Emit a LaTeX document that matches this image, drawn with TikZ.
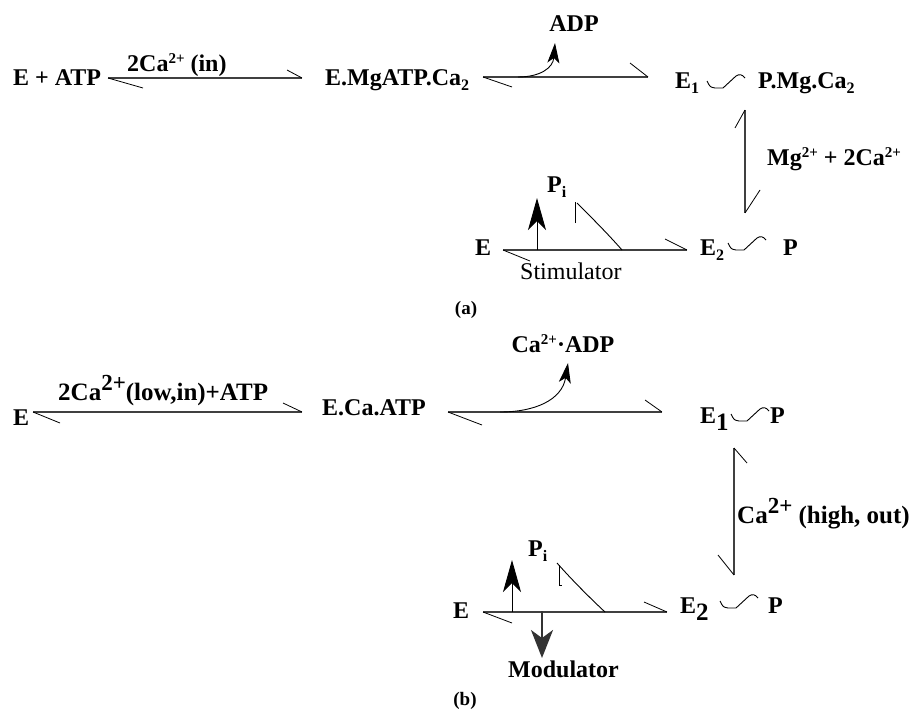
\documentclass[tikz,border=0pt]{standalone}
\usepackage{fontspec}
\setmainfont{Liberation Serif}
\usetikzlibrary{arrows.meta}
\newcommand\mysub[1]{\raisebox{-5pt}{\fontsize{16}{16}\selectfont #1}}
\newcommand\mysup[1]{\raisebox{8pt}{\fontsize{15}{15}\selectfont #1}}
\newcommand\bigsub[1]{\raisebox{-7pt}{\fontsize{25}{25}\selectfont #1}}
\newcommand\bigsup[1]{\raisebox{10pt}{\fontsize{23}{23}\selectfont #1}}
\begin{document}
\begin{tikzpicture}[x=1pt,y=-1pt,
  lbl/.style={inner sep=0pt, anchor=base west, font=\fontsize{24}{28}\selectfont\bfseries},
  biglbl/.style={inner sep=0pt, anchor=base west, font=\fontsize{25}{28}\selectfont\bfseries},
  plain/.style={inner sep=0pt, anchor=base west, font=\fontsize{24}{28}\selectfont},
  tag/.style={inner sep=0pt, anchor=center, font=\fontsize{19}{20}\selectfont\bfseries},
  eqline/.style={draw=black!75, line width=1.4pt},
  barb/.style={draw=black, line width=0.8pt},
  thinline/.style={draw=black, line width=0.9pt},
  curvearrow/.style={-{Stealth[length=20pt,width=12pt,inset=5pt]}, line width=0.9pt},
  uparrow/.style={-{Stealth[length=32pt,width=18pt,inset=9pt]}, line width=0.9pt},
  downarrow/.style={-{Stealth[length=28pt,width=22pt,inset=8pt]}, draw=black!80, line width=2pt},
  wavepic/.pic={\draw[line width=0.9pt] (0,6) .. controls (3,12) .. (8,13) -- (16,13) -- (29,1) .. controls (32,-1) and (35,-1) .. (38,3);}
]
\useasboundingbox (0,0) rectangle (918,712);

% ---------------- (a) ----------------
\node[lbl] (a1) at (13,85) {E + ATP};
\node[lbl] (a1lab) at (127,71) {2Ca\mysup{2+} (in)};
\node[lbl] (a2) at (325,85) {E.MgATP.Ca\mysub{2}};
\node[lbl,anchor=center] (adp) at (574,24) {ADP};
\node[lbl] (a3e) at (675,88) {E\mysub{1}};
\node[lbl] (a3p) at (758,88) {P.Mg.Ca\mysub{2}};
\node[lbl] (mglab) at (767,165) {Mg\mysup{2+} + 2Ca\mysup{2+}};
\node[lbl] (a5e) at (700,255) {E\mysub{2}};
\node[lbl] (a5p) at (783,255) {P};
\node[lbl] (a6) at (475,255) {E};
\node[lbl] (api) at (547,192) {P\mysub{i}};
\node[plain] (stim) at (520,279) {Stimulator};
\node[tag] (taga) at (466,310) {(a)};

% arrow 1
\coordinate (l1a) at (108,78); \coordinate (l1b) at (302,78);
\coordinate (l1ab) at (143,88); \coordinate (l1bb) at (287,70);
\draw[eqline] (l1a) -- (l1b);
\draw[barb] (l1a) -- (l1ab);
\draw[barb] (l1bb) -- (l1b);
% arrow 2
\coordinate (l2a) at (483,77); \coordinate (l2b) at (648,77);
\coordinate (l2ab) at (512,87); \coordinate (l2bb) at (630,63);
\draw[eqline] (l2a) -- (l2b);
\draw[barb] (l2a) -- (l2ab);
\draw[barb] (l2bb) -- (l2b);
\coordinate (adps) at (518,77); \coordinate (adpt) at (555,43);
\draw[curvearrow] (adps) .. controls (540,77) and (553,68) .. (adpt);
\pic at (707,75) {wavepic};
% vertical arrow
\coordinate (l3a) at (745,110); \coordinate (l3b) at (745,213);
\coordinate (l3ab) at (735,128); \coordinate (l3bb) at (760,190);
\draw[eqline] (l3a) -- (l3b);
\draw[barb] (l3a) -- (l3ab);
\draw[barb] (l3bb) -- (l3b);
% bottom arrow
\coordinate (l4a) at (503,250); \coordinate (l4b) at (687,250);
\coordinate (l4ab) at (530,261); \coordinate (l4bb) at (665,239);
\draw[eqline] (l4a) -- (l4b);
\draw[barb] (l4a) -- (l4ab);
\draw[barb] (l4bb) -- (l4b);
\pic at (728,237) {wavepic};
\coordinate (stb) at (537,250); \coordinate (stt) at (537,198);
\draw[uparrow] (stb) -- (stt);
\coordinate (pia) at (575,223); \coordinate (pib) at (575,202);
\coordinate (pic1) at (577,203); \coordinate (pic2) at (622,250);
\draw[thinline] (pia) -- (pib);
\draw[thinline] (pic1) .. controls (592,218) and (608,234) .. (pic2);

% ---------------- (b) ----------------
\node[lbl] (b1) at (13,425) {E};
\node[biglbl] (b1lab) at (58,400) {2Ca\bigsup{2+}(low,in)+ATP};
\node[lbl] (b2) at (322,415) {E.Ca.ATP};
\node[lbl,anchor=base] (cadp) at (563,352) {Ca\mysup{2+}·ADP};
\node[lbl] (b3e) at (700,423) {E\bigsub{1}};
\node[lbl] (b3p) at (770,423) {P};
\node[biglbl] (calab) at (737,523) {Ca\bigsup{2+} (high, out)};
\node[lbl] (b5e) at (680,613) {E\bigsub{2}};
\node[lbl] (b5p) at (768,613) {P};
\node[lbl] (b6) at (453,618) {E};
\node[lbl] (bpi) at (528,556) {P\mysub{i}};
\node[lbl] (mod) at (508,677) {Modulator};
\node[tag] (tagb) at (465,701) {(b)};

\coordinate (m1a) at (33,412); \coordinate (m1b) at (302,412);
\coordinate (m1ab) at (60,423); \coordinate (m1bb) at (283,403);
\draw[eqline] (m1a) -- (m1b);
\draw[barb] (m1a) -- (m1ab);
\draw[barb] (m1bb) -- (m1b);
\coordinate (m2a) at (448,412); \coordinate (m2b) at (662,412);
\coordinate (m2ab) at (482,425); \coordinate (m2bb) at (645,400);
\draw[eqline] (m2a) -- (m2b);
\draw[barb] (m2a) -- (m2ab);
\draw[barb] (m2bb) -- (m2b);
\coordinate (cads) at (500,412); \coordinate (cadt) at (568,363);
\draw[curvearrow] (cads) .. controls (535,412) and (562,400) .. (cadt);
\pic at (731,408) {wavepic};
\coordinate (m3a) at (734,448); \coordinate (m3b) at (734,575);
\coordinate (m3ab) at (747,463); \coordinate (m3bb) at (718,555);
\draw[eqline] (m3a) -- (m3b);
\draw[barb] (m3a) -- (m3ab);
\draw[barb] (m3bb) -- (m3b);
\coordinate (m4a) at (483,612); \coordinate (m4b) at (667,612);
\coordinate (m4ab) at (512,623); \coordinate (m4bb) at (644,602);
\draw[eqline] (m4a) -- (m4b);
\draw[barb] (m4a) -- (m4ab);
\draw[barb] (m4bb) -- (m4b);
\pic at (720,595) {wavepic};
\coordinate (upb) at (512,612); \coordinate (upt) at (512,560);
\draw[uparrow] (upb) -- (upt);
\coordinate (dnb) at (542,611); \coordinate (dnt) at (542,658);
\draw[downarrow] (dnb) -- (dnt);
\coordinate (qia) at (559,565); \coordinate (qib) at (559,585); \coordinate (qic) at (562,585);
\draw[thinline] (qia) -- (qib) -- (qic);
\coordinate (qc1) at (557,563); \coordinate (qc2) at (605,612);
\draw[thinline] (qc1) .. controls (572,580) and (590,598) .. (qc2);
\end{tikzpicture}
\end{document}
